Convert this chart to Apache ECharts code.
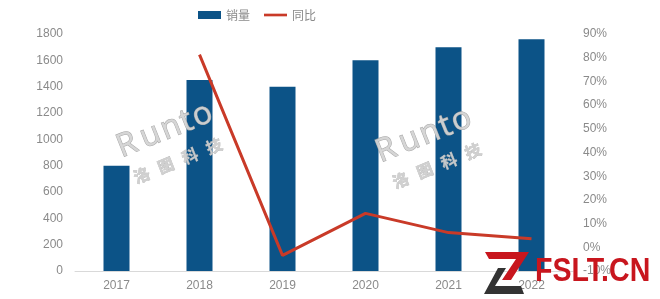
<!DOCTYPE html>
<html>
<head>
<meta charset="utf-8">
<script src="https://cdn.jsdelivr.net/npm/echarts@6/dist/echarts.min.js"></script>
<style>
  html, body { margin: 0; padding: 0; background: #fff; }
  #chart { width: 660px; height: 299px; }
</style>
</head>
<body>
<div id="chart"></div>
<script>
// Annual sales volume and year-over-year growth
const years = ['2017', '2018', '2019', '2020', '2021', '2022'];
const sales = [800, 1450, 1400, 1600, 1700, 1760];
const yoyPercent = [null, 81.3, -3.4, 14.3, 6.2, 3.6];

const salesAxisMax = 1800;
const salesAxisStep = 200;
const yoyAxisMin = -10;
const yoyAxisMax = 90;
const yoyAxisStep = 10;

const BAR_COLOR = '#0c5387';
const LINE_COLOR = '#c93a28';
const LABEL_COLOR = '#8a8a8a';
const FONT = '"Liberation Sans", Arial, sans-serif';

// Runto watermark: each glyph placed separately for the wide spacing
function watermark(x, y) {
  const letters = ['R', 'u', 'n', 't', 'o'];
  const lx = [0, 25, 47, 68, 81];
  const cn = ['洛', '图', '科', '技'];
  const cx = [4, 30, 56, 82];
  const children = [];
  letters.forEach((ch, i) => children.push({
    type: 'text', x: lx[i], y: 3, z: 50,
    style: {
      text: ch, font: '32px "Open Sans", sans-serif',
      fill: 'rgba(212,212,212,0.95)', stroke: 'rgba(160,160,160,0.9)', lineWidth: 1,
      textVerticalAlign: 'bottom'
    }
  }));
  cn.forEach((ch, i) => children.push({
    type: 'text', x: cx[i], y: 28, z: 50,
    style: {
      text: ch, font: 'bold 16px "Noto Sans CJK SC", sans-serif',
      fill: 'rgba(205,205,205,0.95)', stroke: 'rgba(165,165,165,0.85)', lineWidth: 0.5,
      textVerticalAlign: 'bottom'
    }
  }));
  return { type: 'group', x: x, y: y, rotation: 0.38, z: 50, children: children };
}

const chart = echarts.init(document.getElementById('chart'), null, { renderer: 'canvas' });

chart.setOption({
  animation: false,
  backgroundColor: '#fff',
  legend: {
    top: 4,
    left: 193,
    itemGap: 14,
    itemWidth: 23,
    itemHeight: 8,
    textStyle: { color: LABEL_COLOR, fontSize: 12, fontFamily: '"Noto Sans CJK SC", sans-serif' },
    data: [
      { name: '销量', icon: 'rect' },
      { name: '同比', icon: 'path://M0,0 L26,0 L26,3 L0,3 Z' }
    ]
  },
  grid: { left: 75, right: 87, top: 34, bottom: 28 },
  xAxis: {
    type: 'category',
    data: years,
    axisLine: { lineStyle: { color: '#d9d9d9', width: 1 } },
    axisTick: { show: false },
    axisLabel: { color: LABEL_COLOR, fontSize: 12, fontFamily: FONT, margin: 9 }
  },
  yAxis: [
    {
      type: 'value',
      min: 0, max: salesAxisMax, interval: salesAxisStep,
      splitLine: { show: false },
      axisLine: { show: false },
      axisTick: { show: false },
      axisLabel: {
        color: LABEL_COLOR, fontSize: 12, fontFamily: FONT, margin: 12,
        formatter: v => String(v)
      }
    },
    {
      type: 'value',
      min: yoyAxisMin, max: yoyAxisMax, interval: yoyAxisStep,
      splitLine: { show: false },
      axisLine: { show: false },
      axisTick: { show: false },
      axisLabel: {
        color: LABEL_COLOR, fontSize: 12, fontFamily: FONT, margin: 10,
        formatter: v => Math.round(v) + '%'
      }
    }
  ],
  series: [
    {
      name: '销量',
      type: 'bar',
      data: sales,
      barWidth: 26,
      itemStyle: { color: BAR_COLOR }
    },
    {
      name: '同比',
      type: 'line',
      yAxisIndex: 1,
      data: yoyPercent,
      symbol: 'none',
      lineStyle: { color: LINE_COLOR, width: 3 },
      itemStyle: { color: LINE_COLOR },
      z: 5
    }
  ],
  graphic: [
    watermark(123, 161),
    watermark(382, 166),
    // FSLT logo mark
    {
      type: 'polygon', z: 60,
      shape: { points: [[485, 252], [529, 252], [511, 280], [502, 280], [516, 259], [489, 259]] },
      style: { fill: '#c8161e' }
    },
    {
      type: 'polygon', z: 60,
      shape: { points: [[498, 268], [506, 268], [495, 286], [521, 286], [524, 294], [484, 294]] },
      style: { fill: '#333333' }
    },
    {
      type: 'text', z: 60, x: 535, y: 289, scaleX: 0.84,
      style: {
        text: 'FSLT.CN', font: 'bold 34px "Liberation Sans", Arial, sans-serif',
        fill: '#c8161e', textVerticalAlign: 'bottom'
      }
    }
  ]
});
</script>
</body>
</html>
